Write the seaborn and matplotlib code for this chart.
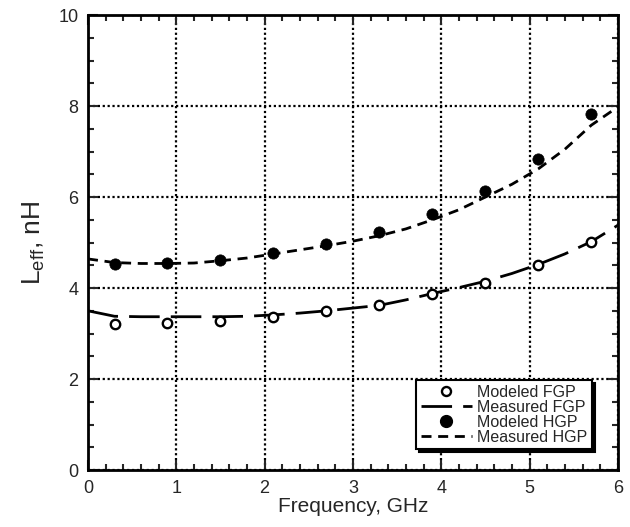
import numpy as np
import pandas as pd
import matplotlib
matplotlib.use("Agg")
import matplotlib.pyplot as plt
from matplotlib.lines import Line2D
from matplotlib.ticker import MultipleLocator
import seaborn as sns

# ── data ────────────────────────────────────────────────────
freq_model = [0.3, 0.9, 1.5, 2.1, 2.7, 3.3, 3.9, 4.5, 5.1, 5.7]
fgp_model = [3.21, 3.23, 3.27, 3.36, 3.49, 3.63, 3.87, 4.11, 4.50, 5.01]
hgp_model = [4.52, 4.55, 4.62, 4.77, 4.97, 5.23, 5.62, 6.13, 6.83, 7.83]

freq_meas = [0.0, 0.3, 0.6, 0.9, 1.2, 1.5, 1.8, 2.1, 2.4, 2.7, 3.0,
             3.3, 3.6, 3.9, 4.2, 4.5, 4.8, 5.1, 5.4, 5.7, 6.0]
fgp_meas = [3.50, 3.38, 3.37, 3.37, 3.37, 3.37, 3.38, 3.41, 3.45, 3.50, 3.56,
            3.62, 3.74, 3.88, 4.01, 4.15, 4.32, 4.52, 4.75, 5.02, 5.38]
hgp_meas = [4.64, 4.56, 4.54, 4.54, 4.55, 4.60, 4.66, 4.75, 4.84, 4.93, 5.03,
            5.15, 5.30, 5.50, 5.72, 6.00, 6.28, 6.62, 7.05, 7.58, 7.98]

x_ticks = [0, 1, 2, 3, 4, 5, 6]
y_ticks = [0, 2, 4, 6, 8, 10]

# ── style ───────────────────────────────────────────────────
sns.set_style("ticks")
plt.rcParams["font.family"] = ["Liberation Sans", "DejaVu Sans"]
plt.rcParams["mathtext.fontset"] = "custom"
plt.rcParams["mathtext.rm"] = "Liberation Sans"
plt.rcParams["mathtext.it"] = "Liberation Sans"

LONG_DASH = (0, (11, 4))
SHORT_DASH = (0, (3.6, 2.4))

meas = pd.DataFrame({
    "freq": freq_meas * 2,
    "L": fgp_meas + hgp_meas,
    "series": ["Measured FGP"] * len(freq_meas) + ["Measured HGP"] * len(freq_meas),
})

fig = plt.figure(figsize=(6.3, 5.27), dpi=100)
ax = fig.add_axes([0.1397, 0.108, 0.841, 0.8635])

sns.lineplot(data=meas, x="freq", y="L", style="series",
             dashes={"Measured FGP": LONG_DASH[1], "Measured HGP": SHORT_DASH[1]},
             color="black", linewidth=2, ax=ax, legend=False, sort=False)

sns.scatterplot(x=freq_model, y=fgp_model, ax=ax, s=46, facecolor="white",
                edgecolor="black", linewidth=1.7, zorder=4)
sns.scatterplot(x=freq_model, y=hgp_model, ax=ax, s=66, color="black",
                edgecolor="black", linewidth=0.5, zorder=4)

ax.set_xlim(0, 6)
ax.set_ylim(0, 10)
ax.set_xticks(x_ticks)
ax.set_yticks(y_ticks)
ax.xaxis.set_minor_locator(MultipleLocator(0.2))
ax.yaxis.set_minor_locator(MultipleLocator(0.5))
ax.tick_params(which="both", direction="in", top=True, right=True,
               width=1.5, labelsize=13, pad=7)
ax.tick_params(which="major", length=7)
ax.tick_params(which="minor", length=4)
for sp in ax.spines.values():
    sp.set_linewidth(2)
    sp.set_color("black")

ax.grid(True, which="major", color="black", linestyle=(0, (1, 1.2)), linewidth=1.6)
ax.set_axisbelow(True)

ax.set_xlabel("Frequency, GHz", fontsize=15, labelpad=0)
ax.set_ylabel(r"L$_{\rm eff}$, nH", fontsize=19, labelpad=8)

handles = [
    Line2D([], [], marker="o", linestyle="none", markerfacecolor="white",
           markeredgecolor="black", markeredgewidth=1.7, markersize=6.5),
    Line2D([], [], color="black", linewidth=2, linestyle=LONG_DASH),
    Line2D([], [], marker="o", linestyle="none", color="black", markersize=8.5),
    Line2D([], [], color="black", linewidth=2, linestyle=SHORT_DASH),
]
labels = ["Modeled FGP", "Measured FGP", "Modeled HGP", "Measured HGP"]
leg = ax.legend(handles, labels, loc="lower right", bbox_to_anchor=(0.966, 0.028),
                fontsize=11.5, frameon=True, fancybox=False, framealpha=1,
                edgecolor="black", handlelength=3.2, handletextpad=0.3,
                labelspacing=0.0, borderpad=0.3,
                shadow={"color": "black", "alpha": 1})
leg.get_frame().set_linewidth(1.5)

fig.savefig("out.png", dpi=100)
